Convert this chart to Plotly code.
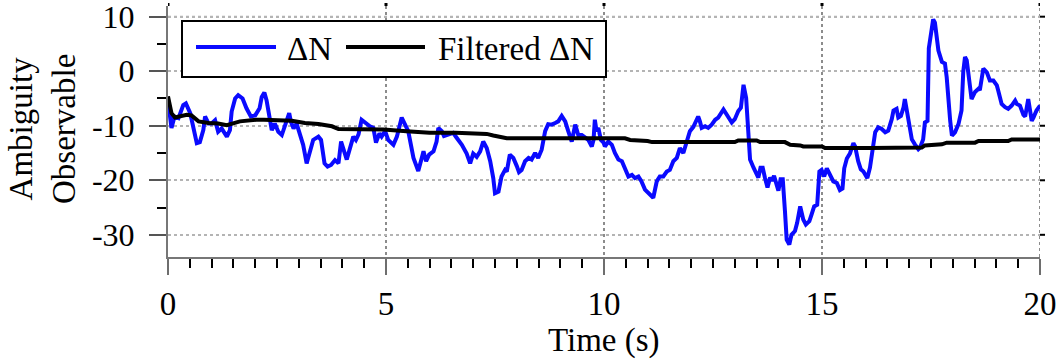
import plotly.graph_objects as go

# ---------------- data ----------------
t_dn = [0.0, 0.08, 0.15, 0.24, 0.35, 0.41, 0.51, 0.58, 0.66, 0.73, 0.81, 0.85, 0.93, 1.0, 1.08,
        1.15, 1.23, 1.35, 1.42, 1.46, 1.54, 1.61, 1.71, 1.8, 1.9, 2.0, 2.1, 2.15, 2.21, 2.26,
        2.32, 2.38, 2.45, 2.53, 2.61, 2.68, 2.78, 2.82, 2.88, 2.95, 3.03, 3.1, 3.18, 3.26, 3.33,
        3.45, 3.51, 3.59, 3.66, 3.74, 3.83, 3.91, 3.97, 4.1, 4.17, 4.25, 4.31, 4.37, 4.44,
        4.52, 4.63, 4.71, 4.77, 4.85, 4.9, 4.98, 5.05, 5.17, 5.25, 5.36, 5.44, 5.51, 5.63,
        5.74, 5.82, 5.86, 5.92, 5.99, 6.09, 6.16, 6.2, 6.28, 6.33, 6.43, 6.54, 6.62, 6.74,
        6.85, 6.93, 7.0, 7.08, 7.16, 7.23, 7.31, 7.39, 7.46, 7.5, 7.58, 7.65, 7.73, 7.77,
        7.84, 7.92, 8.0, 8.05, 8.11, 8.19, 8.27, 8.34, 8.42, 8.49, 8.57, 8.65, 8.72, 8.8,
        8.88, 8.95, 9.03, 9.11, 9.18, 9.26, 9.34, 9.41, 9.49, 9.57, 9.64, 9.72, 9.76, 9.79,
        9.83, 9.87, 9.93, 9.99, 10.02, 10.1, 10.18, 10.25, 10.33, 10.41, 10.48, 10.56, 10.64,
        10.71, 10.79, 10.86, 10.94, 11.02, 11.09, 11.13, 11.21, 11.28, 11.36, 11.44, 11.51,
        11.59, 11.67, 11.74, 11.82, 11.9, 11.97, 12.05, 12.13, 12.16, 12.2, 12.24, 12.32,
        12.39, 12.47, 12.55, 12.62, 12.7, 12.74, 12.81, 12.89, 12.93, 13.0, 13.08, 13.14,
        13.2, 13.26, 13.29, 13.33, 13.35, 13.43, 13.5, 13.54, 13.59, 13.64, 13.69, 13.75,
        13.81, 13.85, 13.9, 13.96, 14.0, 14.05, 14.1, 14.15, 14.19, 14.25, 14.3, 14.38,
        14.43, 14.5, 14.57, 14.63, 14.71, 14.76, 14.82, 14.89, 14.94, 14.99, 15.05, 15.11,
        15.18, 15.26, 15.34, 15.41, 15.47, 15.51, 15.57, 15.64, 15.72, 15.76, 15.83, 15.89,
        15.95, 16.04, 16.1, 16.14, 16.18, 16.22, 16.29, 16.37, 16.45, 16.52, 16.6, 16.64,
        16.71, 16.75, 16.81, 16.87, 16.9, 16.94, 16.98, 17.02, 17.06, 17.13, 17.21, 17.25,
        17.32, 17.36, 17.42, 17.45, 17.5, 17.55, 17.59, 17.63, 17.67, 17.75, 17.82, 17.86,
        17.9, 17.94, 17.98, 18.05, 18.13, 18.2, 18.24, 18.28, 18.32, 18.36, 18.4, 18.43,
        18.51, 18.59, 18.62, 18.66, 18.7, 18.78, 18.85, 18.93, 19.01, 19.04, 19.08, 19.12,
        19.2, 19.27, 19.35, 19.43, 19.47, 19.54, 19.62, 19.66, 19.73, 19.77, 19.81, 19.85,
        19.92, 20.0]
dn = [-5.3, -10.4, -8.3, -8.6, -6.2, -5.9, -7.7, -10.2, -13.2, -13.0, -10.8, -8.3, -9.6, -9.6,
      -9.0, -11.1, -10.5, -12.0, -10.8, -7.4, -5.0, -4.4, -5.0, -6.8, -8.3, -8.1, -6.8, -4.7,
      -3.9, -5.3, -8.3, -10.8, -9.6, -11.1, -11.7, -10.2, -7.7, -9.3, -10.5, -9.6, -11.4,
      -13.5, -16.9, -14.5, -12.6, -12.0, -12.6, -16.9, -17.5, -17.2, -16.3, -16.9, -12.9,
      -16.2, -14.1, -12.0, -12.6, -11.6, -8.9, -9.5, -10.1, -10.4, -13.1, -11.4, -12.0,
      -11.0, -12.6, -13.5, -12.0, -8.5, -9.8, -11.0, -15.9, -18.3, -15.9, -14.7, -16.5,
      -15.3, -14.7, -12.9, -10.4, -11.0, -11.9, -11.6, -11.3, -12.2, -13.5, -15.1, -16.9,
      -15.1, -15.7, -14.7, -12.9, -14.1, -16.5, -19.6, -22.4, -22.1, -19.3, -18.1, -18.4,
      -15.3, -15.9, -17.4, -18.5, -18.1, -16.5, -15.9, -16.2, -15.0, -15.9, -14.4, -11.0,
      -9.7, -9.8, -9.5, -9.2, -8.2, -9.2, -11.0, -12.9, -9.8, -11.7, -11.7, -12.3, -12.6,
      -13.8, -12.6, -8.9, -11.0, -10.4, -12.6, -13.1, -13.8, -12.9, -13.5, -15.0, -16.2,
      -16.5, -17.8, -19.3, -19.0, -19.6, -19.3, -20.2, -21.7, -22.3, -22.9, -23.2, -20.2,
      -19.3, -19.3, -18.4, -18.1, -16.5, -15.9, -14.1, -15.0, -13.1, -11.0, -10.2, -8.9,
      -8.3, -9.2, -10.4, -10.1, -10.4, -9.8, -8.9, -8.5, -7.3, -7.0, -7.9, -8.8, -9.4, -8.8,
      -7.3, -6.7, -2.5, -4.9, -9.1, -12.8, -16.2, -17.7, -18.9, -19.5, -17.7, -17.7, -19.5,
      -21.3, -19.5, -20.1, -19.2, -20.7, -21.9, -19.8, -19.8, -25.6, -30.9, -31.8, -30.0,
      -29.3, -27.8, -24.8, -27.2, -28.1, -27.5, -26.3, -24.8, -24.5, -18.4, -18.1, -19.3,
      -17.8, -19.0, -20.2, -20.5, -21.8, -21.5, -17.8, -16.0, -15.1, -13.2, -13.8, -16.5,
      -18.0, -18.4, -19.6, -17.7, -15.8, -13.4, -11.2, -10.3, -10.6, -11.2, -10.9, -8.8,
      -7.2, -6.9, -8.5, -8.2, -6.6, -5.1, -6.9, -9.1, -11.0, -12.5, -13.4, -14.3, -14.0,
      -12.5, -9.4, -9.1, 4.2, 7.0, 9.5, 8.9, 6.4, 3.8, 1.7, 1.4, -1.1, -6.0, -9.1, -11.8,
      -11.2, -9.7, -7.2, -0.1, 2.6, 2.0, -1.1, -2.6, -5.1, -3.8, -3.2, -3.5, -1.1, 0.5,
      -0.2, -1.7, -1.7, -2.6, -3.5, -5.1, -6.0, -6.6, -6.9, -6.3, -5.4, -6.0, -6.3, -8.0,
      -8.3, -5.1, -6.9, -9.1, -8.5, -7.2, -6.3]

t_filt = [0.0, 0.08, 0.16, 0.31, 0.43, 0.54, 0.62, 0.7, 0.93, 1.15, 1.35, 1.46, 1.65, 2.03,
          2.2, 2.84, 3.14, 3.45, 3.76, 3.91, 4.4, 4.94, 5.47, 6.0, 6.6, 7.31, 7.46, 7.77,
          10.48, 10.6, 11.0, 11.1, 13.0, 13.08, 13.5, 13.58, 14.15, 14.27, 14.5, 14.57,
          15.0, 15.07, 16.1, 17.29, 17.36, 17.75, 17.86, 18.51, 18.59, 19.27, 19.35, 20.0]
dn_filt = [-4.6, -7.7, -8.5, -8.3, -8.0, -8.1, -8.6, -9.2, -9.5, -9.6, -9.9, -9.7, -9.2,
           -8.9, -8.9, -9.1, -9.5, -9.7, -10.1, -10.6, -10.6, -10.7, -11.0, -11.3, -11.3,
           -11.5, -11.8, -12.3, -12.3, -12.6, -12.8, -13.0, -13.0, -12.7, -12.7, -13.0,
           -13.0, -13.5, -13.6, -13.8, -13.8, -14.1, -14.1, -14.0, -13.6, -13.4, -13.1,
           -13.1, -12.8, -12.8, -12.5, -12.5]

x_ticks = [0, 5, 10, 15, 20]
x_tick_text = ["0", "5", "10", "15", "20"]
y_ticks = [-30, -20, -10, 0, 10]
y_tick_text = ["-30", "-20", "-10", "0", "10"]
y_minor = [-25, -15, -5, 5]
series_names = ["ΔN", "Filtered ΔN"]
x_title = "Time (s)"
y_title = "Ambiguity<br>Observable"

# ---------------- layout geometry ----------------
W, H = 1060, 362
L, R, T, B = 168, 20, 6, 105
PW, PH = W - L - R, H - T - B
X_RANGE = [0, 20]
Y_RANGE = [-34.07, 11.96]
FONT = "Liberation Serif, Times New Roman, serif"
GRID_H = "#b4b4b4"
GRID_V = "#8c8c8c"


def px2x(px):
    return (px - L) / PW


def py2y(py):
    return (H - B - py) / PH


x_minor = [i * 0.5 for i in range(41) if i % 10 != 0]

fig = go.Figure()
fig.add_trace(go.Scatter(x=t_dn, y=dn, mode="lines", name=series_names[0],
                         line=dict(color="#0a0aff", width=4), showlegend=False))
fig.add_trace(go.Scatter(x=t_filt, y=dn_filt, mode="lines", name=series_names[1],
                         line=dict(color="black", width=4), showlegend=False))

fig.update_layout(
    template="none",
    width=W, height=H,
    margin=dict(l=L, r=R, t=T, b=B, pad=0, autoexpand=False),
    paper_bgcolor="white", plot_bgcolor="white",
    font=dict(family=FONT, color="black", size=33),
    showlegend=False,
    xaxis=dict(range=X_RANGE, zeroline=False, automargin=False,
               tickmode="array", tickvals=x_ticks, ticktext=x_tick_text,
               ticks="outside", ticklen=16, tickwidth=2, tickcolor="#6e6e6e",
               showline=True, linecolor="#777777", linewidth=2,
               showgrid=True, gridcolor=GRID_V, griddash="dot", gridwidth=2,
               ticklabeloverflow="allow",
               tickfont=dict(family=FONT, size=33, color="black"), ticklabelstandoff=0,
               minor=dict(tickmode="array", tickvals=x_minor, ticks="outside",
                          ticklen=9, tickwidth=2, tickcolor="black", showgrid=False)),
    yaxis=dict(range=Y_RANGE, zeroline=False, automargin=False,
               tickmode="array", tickvals=y_ticks, ticktext=y_tick_text,
               ticks="outside", ticklen=17, tickwidth=2, tickcolor="#555555",
               showline=True, linecolor="#777777", linewidth=2,
               showgrid=True, gridcolor=GRID_H, griddash="dot", gridwidth=2,
               ticklabeloverflow="allow",
               tickfont=dict(family=FONT, size=32, color="black"), ticklabelstandoff=8,
               minor=dict(tickmode="array", tickvals=y_minor, ticks="outside",
                          ticklen=9, tickwidth=2, tickcolor="black", showgrid=False)),
)

# top horizontal grid line at the highest y tick (drawn above so it is never hidden)
fig.add_shape(type="line", xref="paper", yref="y", x0=0, x1=1,
              y0=y_ticks[-1], y1=y_ticks[-1],
              line=dict(color=GRID_H, width=2, dash="dot"), layer="above")
# right border (dotted, at x = 20) with short outward ticks at the y ticks
fig.add_shape(type="line", xref="x", yref="paper", x0=X_RANGE[1], x1=X_RANGE[1], y0=0, y1=1,
              line=dict(color=GRID_V, width=2, dash="dot"), layer="below")
for v in y_ticks:
    fig.add_shape(type="line", xref="paper", yref="y", x0=1, x1=1 + 5 / PW, y0=v, y1=v,
                  line=dict(color="black", width=2), layer="above")
# small marks on the top edge at the major x ticks
for v in x_ticks:
    fig.add_shape(type="line", xref="x", yref="paper", x0=v, x1=v, y0=1, y1=1 + 3 / PH,
                  line=dict(color="black", width=3), layer="above")

# custom legend (box, samples and labels)
fig.add_shape(type="rect", xref="paper", yref="paper",
              x0=px2x(182), x1=px2x(606), y0=py2y(77), y1=py2y(21),
              line=dict(color="black", width=2), fillcolor="white", layer="above")
fig.add_shape(type="line", xref="paper", yref="paper",
              x0=px2x(196), x1=px2x(276), y0=py2y(47), y1=py2y(47),
              line=dict(color="#0a0aff", width=4), layer="above")
fig.add_shape(type="line", xref="paper", yref="paper",
              x0=px2x(346), x1=px2x(425), y0=py2y(47), y1=py2y(47),
              line=dict(color="black", width=4), layer="above")
fig.add_annotation(text=series_names[0], xref="paper", yref="paper",
                   x=px2x(285), y=py2y(49), xanchor="left", yanchor="middle",
                   showarrow=False, font=dict(family=FONT, size=33, color="black"))
fig.add_annotation(text=series_names[1], xref="paper", yref="paper",
                   x=px2x(436), y=py2y(49), xanchor="left", yanchor="middle",
                   showarrow=False, font=dict(family=FONT, size=33, color="black"))

# axis titles
fig.add_annotation(text=x_title, xref="paper", yref="paper",
                   x=0.5, y=py2y(340), xanchor="center", yanchor="middle",
                   showarrow=False, font=dict(family=FONT, size=33, color="black"))
fig.add_annotation(text=y_title, xref="paper", yref="paper", textangle=-90,
                   x=px2x(42), y=py2y(129), xanchor="center", yanchor="middle",
                   showarrow=False, font=dict(family=FONT, size=33, color="black"))

fig.write_html("out.html")
